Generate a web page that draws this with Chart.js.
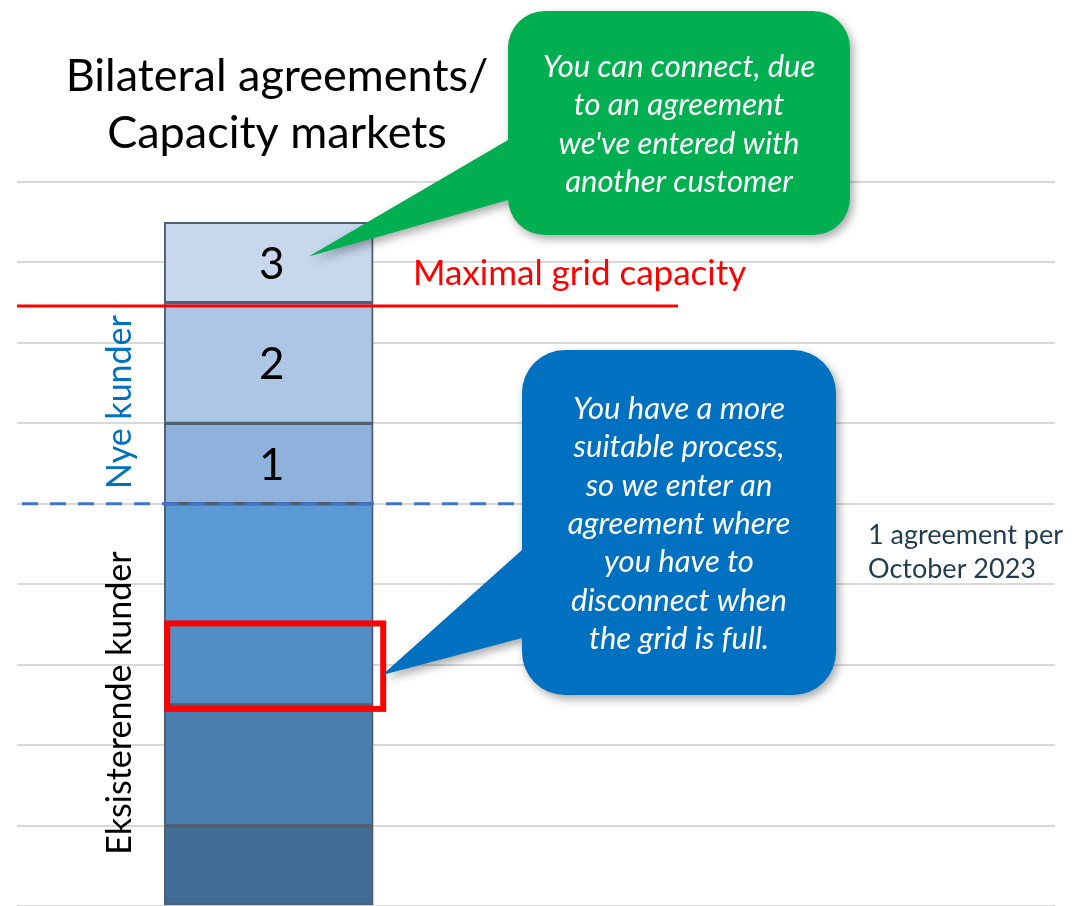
<!DOCTYPE html>
<html>
<head>
<meta charset="utf-8">
<title>Bilateral agreements / Capacity markets</title>
<script src="https://cdn.jsdelivr.net/npm/chart.js@4.4.1/dist/chart.umd.min.js"></script>
<style>
    html, body { margin: 0; padding: 0; background: #ffffff; }
    canvas { display: block; }
</style>
</head>
<body>
<canvas id="capacityChart" width="1074" height="906"></canvas>
<script>
// One stacked column, bottom segment first
var segmentNames = ['Eksisterende 1', 'Eksisterende 2', 'Eksisterende 3', 'Eksisterende 4', 'Ny kunde 1', 'Ny kunde 2', 'Ny kunde 3'];
var segmentValues = [1, 1.5, 1, 1.5, 1, 1.5, 1];
var segmentLabels = ['', '', '', '', '1', '2', '3'];
var segmentColors = ['#416c96', '#4a7eaf', '#528ec3', '#5b9bd5', '#8eb2dc', '#aec6e5', '#c7d7ec'];

var columnPosition = 24.25;     // on a 0-100 horizontal scale
var yMax = 9;
var existingSegments = 4;       // first four segments are existing customers
var maxGridCapacity = 7.46;
var highlightedSegment = 2;     // the one with the red frame

var titleLines = ['Bilateral agreements/', 'Capacity markets'];
var capacityLabel = 'Maximal grid capacity';
var newLabel = 'Nye kunder';
var existingLabel = 'Eksisterende kunder';
var noteLines = ['1 agreement per', 'October 2023'];
var greenLines = ['You can connect, due', 'to an agreement', "we've entered with", 'another customer'];
var blueLines = ['You have a more', 'suitable process,', 'so we enter an', 'agreement where', 'you have to', 'disconnect when', 'the grid is full.'];

var FONT = "Lato, 'Open Sans', 'Noto Sans', sans-serif";

function drawLines(ctx, lines, x, firstBaseline, gap, font, color, align) {
    ctx.save();
    ctx.font = font;
    ctx.fillStyle = color;
    ctx.textAlign = align || 'center';
    ctx.textBaseline = 'alphabetic';
    lines.forEach(function(line, i) {
        ctx.fillText(line, x, firstBaseline + i * gap);
    });
    ctx.restore();
}

function drawCallout(ctx, box, r, joinTop, joinBottom, tip, fill) {
    var x = box.x, y = box.y, w = box.w, h = box.h;
    ctx.save();
    ctx.shadowColor = 'rgba(0,0,0,0.35)';
    ctx.shadowBlur = 10;
    ctx.shadowOffsetX = 3;
    ctx.shadowOffsetY = 4;
    ctx.fillStyle = fill;
    ctx.beginPath();
    ctx.moveTo(x + r, y);
    ctx.lineTo(x + w - r, y);
    ctx.arcTo(x + w, y, x + w, y + r, r);
    ctx.lineTo(x + w, y + h - r);
    ctx.arcTo(x + w, y + h, x + w - r, y + h, r);
    ctx.lineTo(x + r, y + h);
    ctx.arcTo(x, y + h, x, y + h - r, r);
    ctx.lineTo(x, joinBottom);
    ctx.lineTo(tip[0], tip[1]);
    ctx.lineTo(x, joinTop);
    ctx.lineTo(x, y + r);
    ctx.arcTo(x, y, x + r, y, r);
    ctx.closePath();
    ctx.fill();
    ctx.restore();
}

function rotatedText(ctx, text, x, y, font, color) {
    ctx.save();
    ctx.translate(x, y);
    ctx.rotate(-Math.PI / 2);
    ctx.font = font;
    ctx.fillStyle = color;
    ctx.textAlign = 'center';
    ctx.textBaseline = 'middle';
    ctx.fillText(text, 0, 0);
    ctx.restore();
}

var overlayPlugin = {
    id: 'overlay',
    afterDatasetsDraw: function(chart) {
        var ctx = chart.ctx;
        var area = chart.chartArea;
        var y = chart.scales.y;

        // dashed line between existing and new customers
        var existingTotal = 0;
        for (var i = 0; i < existingSegments; i++) existingTotal += segmentValues[i];
        var yDash = y.getPixelForValue(existingTotal);
        ctx.save();
        ctx.strokeStyle = '#4472c4';
        ctx.lineWidth = 3;
        ctx.setLineDash([16, 12]);
        ctx.beginPath();
        ctx.moveTo(area.left + 5, yDash);
        ctx.lineTo(area.left + 500, yDash);
        ctx.stroke();
        ctx.restore();

        // maximal grid capacity line
        var yCap = y.getPixelForValue(maxGridCapacity);
        ctx.save();
        ctx.strokeStyle = '#ff0000';
        ctx.lineWidth = 3;
        ctx.beginPath();
        ctx.moveTo(area.left, yCap);
        ctx.lineTo(area.left + 661, yCap);
        ctx.stroke();
        ctx.restore();

        // segment numbers
        ctx.save();
        ctx.font = '44px ' + FONT;
        ctx.fillStyle = '#000000';
        ctx.textAlign = 'center';
        ctx.textBaseline = 'middle';
        segmentLabels.forEach(function(label, i) {
            if (!label) return;
            var el = chart.getDatasetMeta(i).data[0];
            ctx.fillText(label, el.x + 3, (el.y + el.base) / 2 + 2);
        });
        ctx.restore();

        // red frame round the highlighted segment
        var hl = chart.getDatasetMeta(highlightedSegment).data[0];
        var left = hl.x - hl.width / 2;
        ctx.save();
        ctx.strokeStyle = '#ff0000';
        ctx.lineWidth = 6;
        ctx.strokeRect(left + 3, hl.y - 1, hl.width + 7, hl.base - hl.y + 5);
        ctx.restore();
    },
    afterDraw: function(chart) {
        var ctx = chart.ctx;

        drawLines(ctx, titleLines, 277, 91, 57, '45px ' + FONT, '#000000', 'center');
        drawLines(ctx, [capacityLabel], 413, 285, 0, '35px ' + FONT, '#ff0000', 'left');
        drawLines(ctx, noteLines, 868, 544, 34, '27px ' + FONT, '#1f3b4d', 'left');

        rotatedText(ctx, newLabel, 120, 402, '34px ' + FONT, '#0070c0');
        rotatedText(ctx, existingLabel, 120, 703, '34px ' + FONT, '#000000');

        // green callout pointing at segment 3
        var top = chart.getDatasetMeta(6).data[0];
        drawCallout(ctx, { x: 508, y: 11, w: 342, h: 224 }, 37, 140, 200,
            [top.x + 40, (top.y + top.base) / 2 - 6], '#00b050');
        drawLines(ctx, greenLines, 679, 77, 38.3, 'italic 31px ' + FONT, '#ffffff', 'center');

        // blue callout pointing at the red frame
        var hl = chart.getDatasetMeta(highlightedSegment).data[0];
        drawCallout(ctx, { x: 522, y: 350, w: 314, h: 345 }, 43, 550, 638,
            [hl.x + hl.width / 2 + 9, hl.base - 30], '#0070c0');
        drawLines(ctx, blueLines, 679, 419, 38.3, 'italic 31px ' + FONT, '#ffffff', 'center');
    }
};

var datasets = segmentValues.map(function(v, i) {
    return {
        label: segmentNames[i],
        data: [{ x: columnPosition, y: v }],
        backgroundColor: segmentColors[i],
        borderColor: '#4f5e73',
        borderWidth: 2,
        borderSkipped: false,
        barThickness: 209
    };
});

new Chart(document.getElementById('capacityChart').getContext('2d'), {
    type: 'bar',
    data: { datasets: datasets },
    options: {
        responsive: false,
        animation: false,
        layout: { padding: { left: 17, right: 19, top: 182, bottom: 0 } },
        plugins: {
            legend: { display: false },
            title: { display: false },
            tooltip: { enabled: false }
        },
        scales: {
            x: {
                type: 'linear',
                min: 0,
                max: 100,
                offset: false,
                stacked: true,
                display: false
            },
            y: {
                stacked: true,
                min: 0,
                max: yMax,
                ticks: { display: false, stepSize: 1 },
                border: { display: false },
                grid: { color: '#d9d9d9', lineWidth: 2, drawTicks: false }
            }
        }
    },
    plugins: [overlayPlugin]
});
</script>
</body>
</html>
